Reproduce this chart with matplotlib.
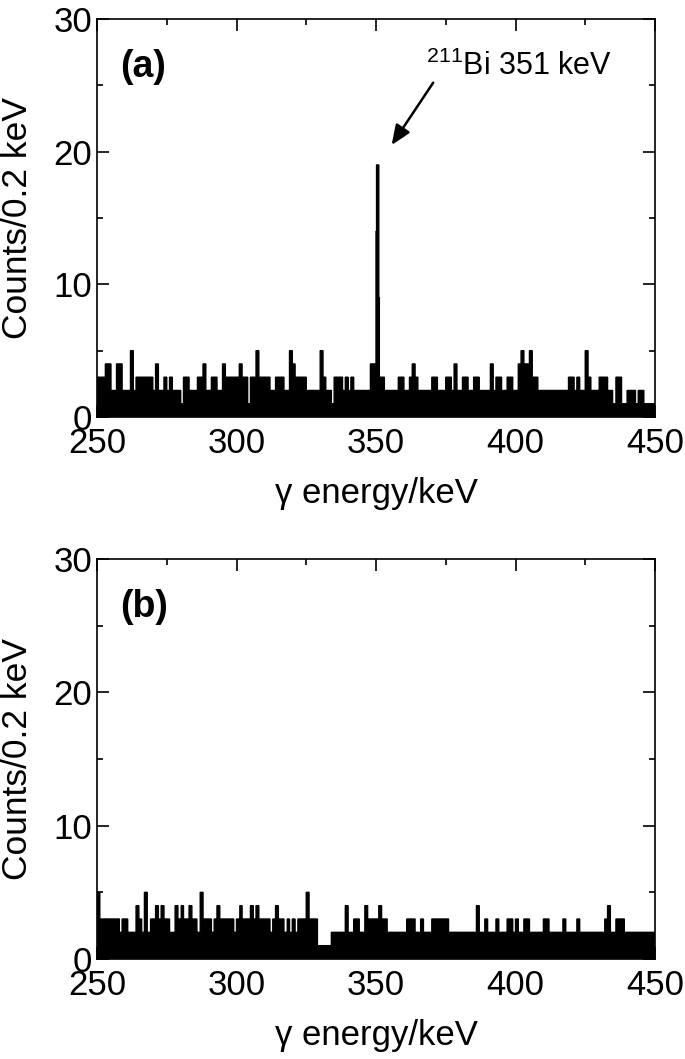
import numpy as np
import matplotlib.pyplot as plt
from matplotlib.ticker import MultipleLocator

plt.rcParams['font.family'] = ['Liberation Sans', 'DejaVu Sans']
plt.rcParams['mathtext.fontset'] = 'custom'
plt.rcParams['mathtext.rm'] = 'Liberation Sans'

E_MIN, E_MAX, BIN = 250, 450, 0.2

# counts, one digit per 1 keV (five 0.2 keV bins), 250-449 keV
COUNTS_A = ("3334422442" "2252333333" "2422323222" "1332223342" "2332243333"
            "3433133533" "3322333225" "4333322222" "5322133323" "2322222244"
            "3332222233" "2234322222" "3322233242" "2332233222" "2423322332"
            "2454453322" "2222222223" "3232253222" "3332213311" "2221221111")
COUNTS_B = ("5333333323" "3222432523" "3434332243" "4334332533" "3234333332"
            "3433343433" "3323433232" "3233353331" "1111222224" "2233224333"
            "3433222222" "2333223222" "3333332222" "2222224223" "2223222332"
            "3223322222" "3322222322" "2232222222" "2234223332" "2222222222")

# 211Bi 351 keV peak, single 0.2 keV bins
PEAK_E = [349.6, 349.8, 350.0, 350.2, 350.4, 350.6, 350.8, 351.0, 351.2]
PEAK_N = [4, 4, 14, 19, 19, 19, 19, 9, 3]

# narrow dips (energy, counts)
DIPS_A = [(260.4, 1), (266.2, 1), (339.6, 1), (346.8, 1), (353.4, 1),
          (367.8, 1), (387.8, 1), (395.6, 1), (400.8, 1), (434.8, 0)]
DIPS_B = [(252.8, 1), (257.6, 1), (261.0, 1), (266.0, 1), (269.0, 1),
          (276.6, 0), (280.0, 1), (285.8, 1), (291.0, 1), (295.0, 1),
          (301.0, 1), (304.0, 1), (312.0, 1), (318.0, 1), (321.6, 1),
          (356.0, 1), (380.0, 1), (401.0, 1), (414.0, 1), (426.0, 1)]


def spectrum(cells, overrides):
    n = np.repeat([int(c) for c in cells], 5).astype(float)
    for e, v in overrides:
        n[int(round((e - E_MIN) / BIN))] = v
    return n


edges = np.linspace(E_MIN, E_MAX, 1001)
spec_a = spectrum(COUNTS_A, list(zip(PEAK_E, PEAK_N)) + DIPS_A)
spec_b = spectrum(COUNTS_B, DIPS_B)

fig = plt.figure(figsize=(6.85, 10.59), dpi=100)
ax_a = fig.add_axes([97 / 685, 1 - 417 / 1059, 558 / 685, 398 / 1059])
ax_b = fig.add_axes([97 / 685, 1 - 959 / 1059, 558 / 685, 400 / 1059])

for ax, n, tag in [(ax_a, spec_a, '(a)'), (ax_b, spec_b, '(b)')]:
    ax.stairs(n, edges, fill=True, color='black', lw=0)
    ax.stairs(n, edges, color='black', lw=1.0)
    ax.set_xlim(E_MIN, E_MAX)
    ax.set_ylim(0, 30)
    ax.xaxis.set_major_locator(MultipleLocator(50))
    ax.xaxis.set_minor_locator(MultipleLocator(25))
    ax.yaxis.set_major_locator(MultipleLocator(10))
    ax.yaxis.set_minor_locator(MultipleLocator(5))
    ax.tick_params(which='both', direction='in', top=True, right=True,
                   labelsize=25, width=1.2)
    ax.tick_params(which='major', length=8.5)
    ax.tick_params(which='minor', length=4.3)
    ax.tick_params(axis='x', pad=7.5)
    ax.tick_params(axis='y', pad=3.5)
    for s in ax.spines.values():
        s.set_linewidth(1.2)
    ax.set_xlabel('γ energy/keV', fontsize=25, va='center')
    ax.set_ylabel('Counts/0.2 keV', fontsize=25.5, va='center')
    h = ax.get_position().height * 1059
    ax.xaxis.set_label_coords(0.5, -77 / h)
    ax.yaxis.set_label_coords(-0.143, 0.5)
    ax.text(258.3, 26.4, tag, fontsize=27, fontweight='bold', va='center')

ax_a.text(368.1, 25.8, r'$\mathregular{^{211}}$Bi 351 keV', fontsize=22, va='baseline')
ax_a.annotate('', xy=(355.6, 20.5), xytext=(370.5, 25.2),
              arrowprops=dict(arrowstyle='-|>,head_length=0.6,head_width=0.25',
                              color='black', lw=1.8, mutation_scale=20,
                              shrinkA=0, shrinkB=0))

fig.savefig('out.png', dpi=100)
